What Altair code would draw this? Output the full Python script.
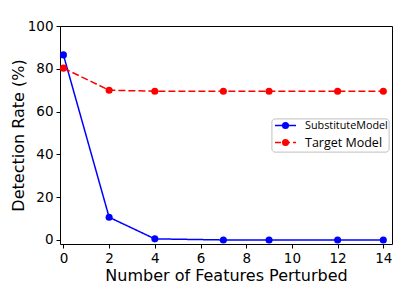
import altair as alt
import pandas as pd

features = [0, 2, 4, 7, 9, 12, 14]
substitute = [86.5, 10.6, 0.5, 0.0, 0.0, 0.0, 0.0]
target = [80.3, 70.0, 69.5, 69.5, 69.5, 69.5, 69.5]
series_names = ["SubstituteModel", "Target Model"]
colors = ["#0000ff", "#ff0000"]
x_ticks = [0, 2, 4, 6, 8, 10, 12, 14]
y_ticks = [0, 20, 40, 60, 80, 100]

rows = []
for f, s, t in zip(features, substitute, target):
    rows.append({"x": f, "y": s, "series": series_names[0]})
    rows.append({"x": f, "y": t, "series": series_names[1]})
df = pd.DataFrame(rows)

W, H = 332, 218

xs = alt.Scale(domain=[-0.15, 14.38], nice=False, zero=False)
ys = alt.Scale(domain=[-1.9, 100], nice=False, zero=False)

x_enc = alt.X("x:Q", scale=xs, title="Number of Features Perturbed",
              axis=alt.Axis(values=x_ticks, grid=False, domain=False, tickColor="black",
                            tickSize=4, labelColor="black", labelFontSize=13.5, labelFont="DejaVu Sans",
                            titleFont="DejaVu Sans", titleFontSize=16, titleFontWeight="normal",
                            titleColor="black", labelPadding=3, titlePadding=3, labelFlush=False))
y_enc = alt.Y("y:Q", scale=ys, title="Detection Rate (%)",
              axis=alt.Axis(values=y_ticks, grid=False, domain=False, tickColor="black",
                            tickSize=4, labelColor="black", labelFontSize=13.5, labelFont="DejaVu Sans",
                            titleFont="DejaVu Sans", titleFontSize=16, titleFontWeight="normal",
                            titleColor="black", labelPadding=3, titlePadding=1, labelFlush=False))

color_scale = alt.Scale(domain=series_names, range=colors)
dash_scale = alt.Scale(domain=series_names, range=[[1, 0], [7, 3]])

lines = alt.Chart(df).mark_line(strokeWidth=1.5).encode(
    x=x_enc, y=y_enc,
    color=alt.Color("series:N", scale=color_scale, legend=None),
    strokeDash=alt.StrokeDash("series:N", scale=dash_scale, legend=None),
)
points = alt.Chart(df).mark_point(filled=True, opacity=1, size=50, shape="circle").encode(
    x=alt.X("x:Q", scale=xs), y=alt.Y("y:Q", scale=ys),
    color=alt.Color("series:N", scale=color_scale, legend=None),
)

# legend (manual, positioned in pixel space)
leg_df = pd.DataFrame({"series": series_names})
box = alt.Chart(leg_df).mark_rect(fill="white", stroke="#cccccc", strokeWidth=1, cornerRadius=3).encode(
    x=alt.value(212), x2=alt.value(329), y=alt.value(93), y2=alt.value(126)
)
layers = [lines, points, box]
for i, (name, col) in enumerate(zip(series_names, colors)):
    yy = 99.5 + i * 17
    d = leg_df[leg_df.series == name]
    layers.append(alt.Chart(d).mark_rule(color=col, strokeWidth=1.5,
                                         strokeDash=[1, 0] if i == 0 else [6, 3]).encode(
        x=alt.value(215), x2=alt.value(236), y=alt.value(yy)))
    layers.append(alt.Chart(d).mark_point(filled=True, opacity=1, size=50, shape="circle", color=col).encode(
        x=alt.value(225.5), y=alt.value(yy)))
    layers.append(alt.Chart(d).mark_text(align="left", baseline="middle", fontSize=12.5 if i else 10.8,
                                         font="Open Sans", color="black").encode(
        x=alt.value(245), y=alt.value(yy), text="series:N"))

chart = alt.layer(*layers).properties(
    width=W, height=H,
    background="white",
    autosize=alt.AutoSizeParams(type="none"),
    padding={"left": 52, "top": 18, "right": 5, "bottom": 40},
).configure_view(stroke="black", strokeWidth=1)

chart.save("out.html", embed_options={"renderer": "svg", "actions": False})
